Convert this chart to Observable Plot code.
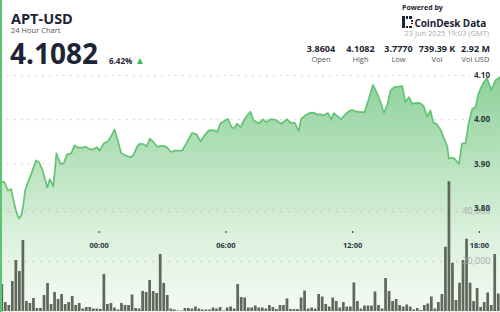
<!DOCTYPE html>
<html><head><meta charset="utf-8">
<script src="https://cdn.jsdelivr.net/npm/d3@7"></script>
<script src="https://cdn.jsdelivr.net/npm/@observablehq/plot@0.6"></script>
<style>
html,body{margin:0;padding:0;background:#fff;}
body{width:500px;height:312px;overflow:hidden;font-family:"Open Sans",sans-serif;color:#1d2433;}
#root{position:relative;width:500px;height:312px;overflow:hidden;}
.t{position:absolute;white-space:nowrap;line-height:1;}
.b{font-weight:700;}
#chart{position:absolute;left:0;top:65px;width:500px;height:247px;}
#chart svg{position:absolute;left:0;top:0;}
#border{position:absolute;left:0;top:0;width:2px;height:312px;background:#5ec470;z-index:5;}
#icon{position:absolute;left:402px;top:16px;width:11px;height:12px;}
#icon div{position:absolute;background:#1d2433;}
.col{position:absolute;transform:translateX(-50%);text-align:center;}
</style></head>
<body><div id="root">
<div id="chart"></div>
<div id="border"></div>
<div class="t b" style="left:11px;top:12px;font-size:14.5px;">APT-USD</div>
<div class="t" style="left:11px;top:27.3px;font-size:7.5px;color:#555;">24 Hour Chart</div>
<div class="t b" style="left:10px;top:39px;font-size:28px;">4.1082</div>
<div class="t b" style="left:109px;top:57px;font-size:8px;">6.42%</div>
<div style="position:absolute;left:137px;top:58px;width:0;height:0;border-left:3.5px solid transparent;border-right:3.5px solid transparent;border-bottom:6px solid #3fb85c;"></div>
<div class="t b" style="left:402px;top:3.5px;font-size:7px;">Powered by</div>
<div id="icon">
  <div style="left:0;top:0;width:2.5px;height:12px;"></div>
  <div style="left:3.5px;top:0;width:2.5px;height:2.5px;"></div>
  <div style="left:7px;top:0;width:2.5px;height:2.5px;"></div>
  <div style="left:3.5px;top:9.5px;width:2.5px;height:2.5px;"></div>
  <div style="left:7px;top:9.5px;width:2.5px;height:2.5px;"></div>
  <div style="left:8.5px;top:4px;width:2.5px;height:1.8px;"></div>
  <div style="left:8.5px;top:6.5px;width:2.5px;height:1.8px;"></div>
</div>
<div class="t b" style="left:414.5px;top:17.8px;font-size:10px;letter-spacing:-0.1px;">CoinDesk Data</div>
<div class="t" style="right:11px;top:30px;font-size:7.5px;color:#aaa;">23 Jun 2025 19:03 (GMT)</div>
<div id="stats"></div>
</div>
<script>
// ---- header stats ----
const statValues = ["3.8604", "4.1082", "3.7770", "739.39 K", "2.92 M"];
const statLabels = ["Open", "High", "Low", "Vol", "Vol USD"];
const statCenters = [321, 360.5, 398.5, 437, 475.5];

// ---- price series (UTC, June 2025) ----
const priceTimes = ["22T19:20","22T19:31","22T19:41","22T19:50","22T19:58","22T20:05","22T20:12","22T20:19","22T20:24","22T20:30",
"22T20:40","22T20:51","22T21:01","22T21:10","22T21:18","22T21:33","22T21:40","22T21:50","22T21:59","22T22:10",
"22T22:20","22T22:29","22T22:41","22T22:50","22T23:00","22T23:12","22T23:22","22T23:34","22T23:45","22T23:53",
"23T00:02","23T00:13","23T00:25","23T00:34","23T00:44","23T00:53","23T01:03","23T01:15","23T01:29","23T01:37",
"23T01:48","23T01:56","23T02:09","23T02:15","23T02:24","23T02:35","23T02:45","23T03:04","23T03:13","23T03:25",
"23T03:34","23T03:56","23T04:10","23T04:24","23T04:37","23T04:48","23T04:59","23T05:12","23T05:26","23T05:35",
"23T05:45","23T05:56","23T06:06","23T06:15","23T06:23","23T06:32","23T06:42","23T06:51","23T07:01","23T07:10",
"23T07:19","23T07:34","23T07:46","23T07:55","23T08:07","23T08:21","23T08:37","23T08:54","23T09:06","23T09:15",
"23T09:27","23T09:34","23T09:46","23T09:58","23T10:10","23T10:19","23T10:29","23T10:38","23T10:50","23T10:59",
"23T11:07","23T11:18","23T11:28","23T11:37","23T11:49","23T11:59","23T12:08","23T12:22","23T12:34","23T12:46",
"23T12:58","23T13:10","23T13:21","23T13:29","23T13:38","23T13:48","23T13:59","23T14:11","23T14:21","23T14:30",
"23T14:40","23T14:49","23T15:01","23T15:13","23T15:22","23T15:32","23T15:41","23T15:49","23T15:58","23T16:10",
"23T16:19","23T16:29","23T16:33","23T16:43","23T16:49","23T17:02","23T17:11","23T17:21","23T17:30","23T17:40",
"23T17:49","23T17:58","23T18:11","23T18:22","23T18:34","23T18:46","23T19:00"];
const priceValues = [3.860,3.859,3.840,3.843,3.814,3.791,3.777,3.783,3.802,3.840,
3.863,3.885,3.908,3.903,3.889,3.847,3.866,3.849,3.924,3.900,
3.902,3.921,3.924,3.942,3.937,3.937,3.939,3.933,3.933,3.938,
3.930,3.946,3.951,3.962,3.978,3.953,3.924,3.919,3.915,3.919,
3.939,3.946,3.944,3.939,3.957,3.949,3.939,3.941,3.937,3.927,
3.930,3.930,3.949,3.970,3.967,3.951,3.964,3.976,3.976,3.972,
3.992,3.997,4.002,3.985,3.980,3.991,3.983,3.998,4.010,4.018,
3.998,3.992,4.001,3.994,4.001,4.000,3.991,4.001,3.992,3.994,
3.974,4.002,4.010,4.015,4.016,4.012,4.012,4.010,4.015,4.000,
4.015,4.007,4.001,4.010,4.019,4.022,4.019,4.017,4.017,4.047,
4.079,4.059,4.036,4.016,4.032,4.066,4.074,4.075,4.076,4.040,
4.051,4.036,4.038,4.037,4.030,4.007,4.021,3.994,3.991,3.977,
3.959,3.939,3.912,3.914,3.912,3.900,3.946,3.947,3.994,4.025,
4.028,4.060,4.083,4.093,4.068,4.089,4.097];

// ---- volume, 10-minute bars starting 22 Jun 19:20 UTC ----
const volStart = "22T19:20";
const volValues = [10800,3600,2400,12000,20400,16000,28400,4000,3200,5200,1200,1200,6400,11200,2800,7600,4800,6800,2800,3600,
6000,2400,3200,1000,1600,1600,1000,1000,800,14800,2800,3200,1400,600,3200,2400,
2400,6600,1200,1000,8000,7600,12400,8000,7200,22800,11200,6400,1000,600,200,200,1200,1200,1000,1800,
1000,600,600,600,1400,1000,1600,200,1400,1800,1000,10800,5600,5400,1400,
1400,2200,1400,1400,1000,2400,1600,800,2400,2400,5000,800,800,800,5400,8200,1000,1400,1000,6800,
5800,2800,1800,5400,4000,1400,3600,1800,1800,11400,4000,1000,2200,2200,2200,7800,
2400,1000,13200,8000,4000,4800,2400,1800,2600,1800,600,1200,400,2400,3000,5800,1000,3600,6800,25700,
51900,19300,4400,11300,20400,28900,11300,4000,9200,1600,3600,7400,2400,22800,7000];

// ---- axes ----
const priceTicks = [4.10, 4.00, 3.90, 3.80];
const volTicks = [20000, 40000];
const timeTicks = ["23T00:00", "23T06:00", "23T12:00", "23T18:00"];
const xStart = "22T19:20", xEnd = "23T19:00";

const parseT = s => new Date(`2025-06-${s}:00Z`);
const price = priceTimes.map((s, i) => ({t: parseT(s), p: priceValues[i]}));
const t0 = parseT(volStart).getTime();
const vol = volValues.map((v, i) => ({t0: new Date(t0 + i * 600000), t1: new Date(t0 + (i + 1) * 600000), v}));
const xDomain = [parseT(xStart), parseT(xEnd)];
const fmtTime = d3.utcFormat("%H:%M");

// stats
const stats = document.getElementById("stats");
statValues.forEach((v, i) => {
  const a = document.createElement("div");
  a.className = "t b col"; a.style.left = statCenters[i] + "px"; a.style.top = "44.3px"; a.style.fontSize = "9px";
  a.textContent = v; stats.appendChild(a);
  const b = document.createElement("div");
  b.className = "t col"; b.style.left = statCenters[i] + "px"; b.style.top = "56px"; b.style.fontSize = "7.5px"; b.style.color = "#555";
  b.textContent = statLabels[i]; stats.appendChild(b);
});

const chart = document.getElementById("chart");
const baseStyle = {background: "transparent", fontFamily: "Open Sans", overflow: "visible"};

// layer 1: area + price grid
const areaBase = 3.5642;
const p1 = Plot.plot({
  width: 500, height: 247, margin: 0,
  style: baseStyle,
  x: {type: "utc", domain: xDomain, axis: null},
  y: {domain: [areaBase, 4.1226], axis: null},
  marks: [
    Plot.areaY(price, {x: "t", y1: areaBase, y2: "p", fill: "url(#aptGrad)"}),
    Plot.ruleY(priceTicks, {stroke: "#c6c6c6", strokeDasharray: "1.5,5.5", strokeWidth: 1, insetRight: 30})
  ]
});
const defs = d3.select(p1).insert("defs", ":first-child");
const grad = defs.append("linearGradient").attr("id", "aptGrad")
  .attr("gradientUnits", "userSpaceOnUse").attr("x1", 0).attr("x2", 0).attr("y1", 0).attr("y2", 247);
[[0, "#8acf97"], [0.35, "#b3e0b9"], [0.7, "#dcf1de"], [1, "#f4faf4"]].forEach(([o, c]) =>
  grad.append("stop").attr("offset", o).attr("stop-color", c));
chart.appendChild(p1);

// layer 2: volume
const p2 = Plot.plot({
  width: 500, height: 247, margin: 0, marginBottom: 1,
  style: baseStyle,
  x: {type: "utc", domain: xDomain, axis: null},
  y: {domain: [0, 98400], axis: null},
  marks: [
    Plot.ruleY(volTicks, {stroke: "#c6c6c6", strokeDasharray: "2,6", strokeWidth: 1, insetRight: 38}),
    Plot.rectY(vol, {x1: "t0", x2: "t1", y: "v", fill: "#5f685b", insetLeft: 0.4, insetRight: 0.4}),
    Plot.text(volTicks, {y: d => d, text: d => d3.format(",")(d), frameAnchor: "right", dx: -10, textAnchor: "end", fill: "#a9a9a9", fontSize: 9})
  ]
});
chart.appendChild(p2);

// layer 3: price line, price labels, time axis
const p3 = Plot.plot({
  width: 500, height: 247, margin: 0, marginBottom: 81,
  style: baseStyle,
  x: {type: "utc", domain: xDomain, label: null},
  y: {domain: [3.7473, 4.1226], axis: null},
  marks: [
    Plot.line(price, {x: "t", y: "p", stroke: "#63c474", strokeWidth: 1.7, strokeLinejoin: "round"}),
    Plot.text(priceTicks, {y: d => d, text: d => d.toFixed(2), frameAnchor: "right", dx: -10.5, textAnchor: "end", fill: "#2b3340", fontSize: 8, fontWeight: 700}),
    Plot.axisX(timeTicks.map(parseT), {tickFormat: fmtTime, tickSize: 2, tickPadding: 9, stroke: "#333", fill: "#2b3340", fontSize: 7.5, fontWeight: 700, label: null})
  ]
});
chart.appendChild(p3);
</script>
</body></html>
